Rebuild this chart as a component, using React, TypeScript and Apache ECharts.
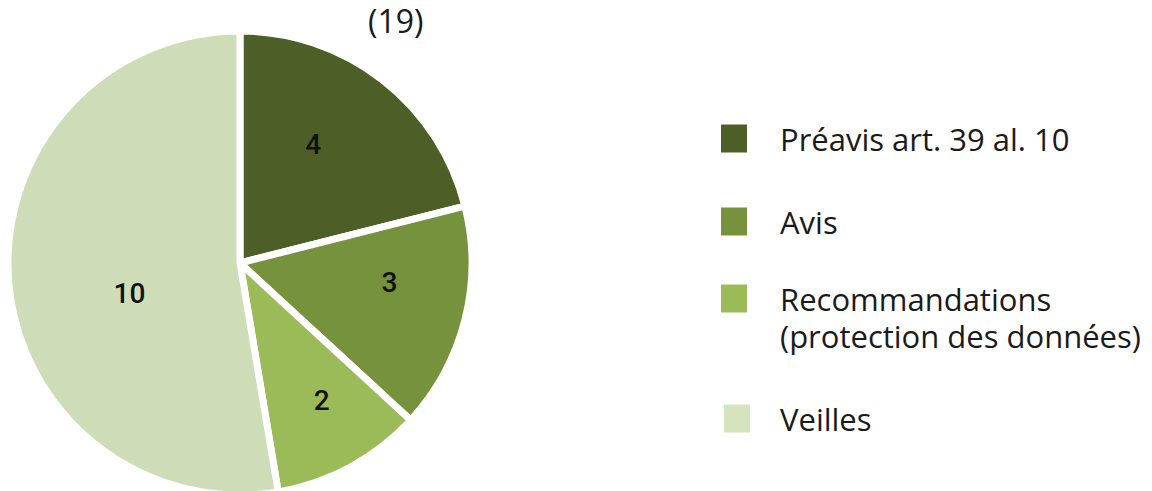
import React, { useEffect, useRef } from "react";
import * as echarts from "echarts";

const categories = [
  "Préavis art. 39 al. 10",
  "Avis",
  "Recommandations\n(protection des données)",
  "Veilles",
];
const values = [4, 3, 2, 10];
const totalLabel = "(19)";
const colors = ["#4d5f27", "#76923c", "#9bbb59", "#cfdcb8"];
const legendColors = ["#4d5f27", "#76923c", "#9bbb59", "#d6e3bf"];
// label nudges (style only), in pixels
const labelNudgeX = [0, 34, 25, 8];
const labelNudgeY = [-25, -10, 33, 21];

export default function App() {
  const ref = useRef<HTMLDivElement>(null);
  useEffect(() => {
    if (!ref.current) return;
    const chart = echarts.init(ref.current, undefined, { renderer: "svg" });
    const legendTops = [120, 203, 243, 400];
    const legendLefts = [719, 719, 719, 722];
    const legendTextPad = [27, 27, 27, 24];
    const textFont = "'Open Sans', sans-serif";
    chart.setOption({
      animation: false,
      backgroundColor: "#ffffff",
      title: {
        text: totalLabel,
        left: 368,
        top: 4,
        padding: 0,
        textStyle: {
          fontFamily: textFont,
          fontSize: 32,
          fontWeight: "normal",
          color: "#1a1a1a",
        },
      },
      legend: categories.map((c, i) => ({
        data: [{ name: c, itemStyle: { color: legendColors[i] } }],
        left: legendLefts[i],
        top: legendTops[i],
        padding: 0,
        orient: "vertical",
        icon: "rect",
        itemWidth: 28,
        itemHeight: 30,
        selectedMode: false,
        formatter: (n: string) => (n.indexOf("\n") >= 0 ? "\n" + n : n),
        textStyle: {
          fontFamily: textFont,
          fontSize: 31,
          color: "#1a1a1a",
          lineHeight: 37,
          padding: [0, 0, 0, legendTextPad[i]],
        },
      })),
      series: [
        {
          type: "pie",
          center: [240, 263],
          radius: 232,
          startAngle: 90,
          clockwise: true,
          data: categories.map((c, i) => ({
            name: c,
            value: values[i],
            itemStyle: { color: colors[i] },
          })),
          itemStyle: { borderColor: "#ffffff", borderWidth: 7 },
          label: {
            show: true,
            position: "inside",
            formatter: "{c}",
            fontFamily: "Roboto, sans-serif",
            fontWeight: 500,
            fontSize: 28,
            color: "#111111",
          },
          labelLayout: (p: any) => ({
            dx: labelNudgeX[p.dataIndex],
            dy: labelNudgeY[p.dataIndex],
          }),
          labelLine: { show: false },
          emphasis: { disabled: true },
        },
      ],
    });
    return () => chart.dispose();
  }, []);
  return (
    <div
      ref={ref}
      style={{ position: "fixed", left: 0, top: 0, width: 1152, height: 491 }}
    />
  );
}
